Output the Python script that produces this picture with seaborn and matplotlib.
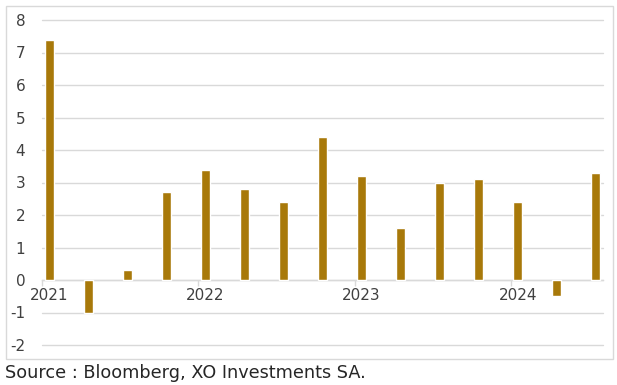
import matplotlib.pyplot as plt
import pandas as pd
import seaborn as sns
from matplotlib.patches import Rectangle

# quarterly values
quarters = ['2021Q1', '2021Q2', '2021Q3', '2021Q4',
            '2022Q1', '2022Q2', '2022Q3', '2022Q4',
            '2023Q1', '2023Q2', '2023Q3', '2023Q4',
            '2024Q1', '2024Q2', '2024Q3']
values = [7.4, -1.0, 0.3, 2.7, 3.4, 2.8, 2.4, 4.4, 3.2, 1.6, 3.0, 3.1, 2.4, -0.5, 3.3]
year_labels = ['2021', '2022', '2023', '2024']
source_text = 'Source : Bloomberg, XO Investments SA.'

bar_color = '#A8790A'
grid_color = '#D9D9D9'
text_color = '#404040'


def main():
    sns.set_style('white')
    plt.rcParams['font.family'] = ['DejaVu Sans']

    df = pd.DataFrame({'quarter': quarters, 'value': values})

    fig = plt.figure(figsize=(6.17, 3.85), dpi=100)
    ax = fig.add_axes([42 / 617, 40 / 385, 561 / 617, 325 / 385])

    sns.barplot(data=df, x='quarter', y='value', order=quarters, color=bar_color,
                saturation=1, width=0.23, ax=ax, zorder=3)

    ax.set_ylim(-2, 8)
    ax.set_xlim(-0.18, len(quarters) - 1 + 0.18)
    ax.set_yticks(range(-2, 9))
    ax.set_yticklabels([str(v) for v in range(-2, 9)])
    ax.yaxis.grid(True, color=grid_color, linewidth=1.0, zorder=0)
    for line in ax.get_ygridlines():
        line.set_clip_on(False)
    ax.tick_params(axis='y', length=0, pad=12, labelsize=11, labelcolor=text_color)

    for s in ['left', 'right', 'top']:
        ax.spines[s].set_visible(False)
    ax.spines['bottom'].set_position(('data', 0))
    ax.spines['bottom'].set_color(grid_color)
    ax.spines['bottom'].set_linewidth(1.0)

    year_pos = [i for i, q in enumerate(quarters) if q.endswith('Q1')]
    ax.set_xticks(year_pos)
    ax.set_xticklabels(year_labels)
    ax.set_xticks([p - 0.18 for p in year_pos], minor=True)
    ax.tick_params(axis='x', which='major', length=0, pad=6, labelsize=11, labelcolor=text_color)
    ax.tick_params(axis='x', which='minor', length=4, width=1, color=grid_color, bottom=True)
    ax.set_xlabel('')
    ax.set_ylabel('')

    fig.patches.append(Rectangle((6 / 617, 26 / 385), 607 / 617, 353 / 385,
                                 transform=fig.transFigure, fill=False,
                                 edgecolor=grid_color, linewidth=1.0))
    fig.text(5 / 617, 3 / 385, source_text, fontsize=12.7, color='#262626',
             ha='left', va='bottom')

    fig.savefig('out.png', dpi=100)
    plt.clf()


if __name__ == "__main__":
    main()
